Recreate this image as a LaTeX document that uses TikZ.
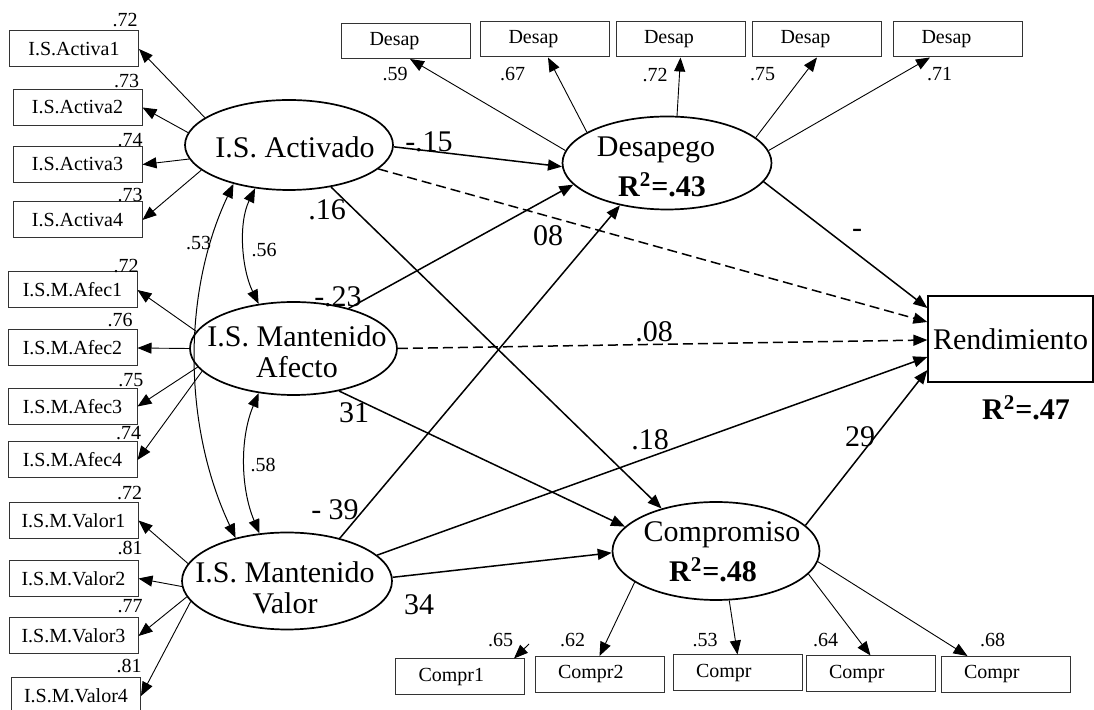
\documentclass[tikz,border=0pt]{standalone}
\usepackage{fontspec}
\setmainfont{Liberation Serif}
\usepackage{tikz}
\usetikzlibrary{shapes,arrows.meta,positioning,calc}

\newcommand{\txtbig}{\fontsize{15}{15.5}\selectfont}
\newcommand{\txtsmall}{\fontsize{10}{12}\selectfont}

\tikzset{
    lat/.style={ellipse, draw, line width=0.85pt, inner sep=0pt},
    ind/.style={rectangle, draw=black!80, line width=0.5pt, minimum width=64.5pt, minimum height=18pt, inner sep=0pt, font=\txtsmall},
    indl/.style={ind, align=left, text width=#1},
    bigtext/.style={font=\txtbig, inner sep=0pt, align=center},
    coef/.style={font=\txtbig, inner sep=0pt},
    load/.style={font=\txtsmall, inner sep=0pt},
    effect/.style={-{Triangle[length=7pt,width=5.5pt]}, line width=0.75pt},
    loadarrow/.style={-{Triangle[length=7pt,width=5.5pt]}, line width=0.45pt},
    corr/.style={{Triangle[length=7pt,width=5.5pt]}-{Triangle[length=7pt,width=5.5pt]}, line width=0.5pt},
    nonsig/.style={dash pattern=on 5pt off 2.5pt}
}

\begin{document}
\begin{tikzpicture}[x=0.5pt,y=-0.5pt]
    \useasboundingbox (0,0) rectangle (1094,710);

    % Latent variables
    \node[lat, minimum width=104pt, minimum height=45pt] (act) at (289,145) {};
    \node[bigtext] (actl) at (295,147) {I.S. Activado};
    \node[lat, minimum width=103.5pt, minimum height=46.5pt] (afe) at (293.5,348.5) {};
    \node[bigtext] (afel) at (297,352) {I.S. Mantenido\\Afecto};
    \node[lat, minimum width=105pt, minimum height=48.5pt] (val) at (287,581) {};
    \node[bigtext] (vall) at (285,588) {I.S. Mantenido\\Valor};
    \node[lat, minimum width=104.5pt, minimum height=46.5pt] (des) at (667,163) {};
    \node[bigtext] (desl) at (656,150) {Desapego};
    \node[bigtext] (desr) at (662,185) {\textbf{R\textsuperscript{2}=.43}};
    \node[lat, minimum width=103.5pt, minimum height=49pt] (com) at (716,551) {};
    \node[bigtext] (coml) at (722,535) {Compromiso};
    \node[bigtext] (comr) at (713,570) {\textbf{R\textsuperscript{2}=.48}};

    % Outcome
    \node[rectangle, draw, line width=0.6pt, minimum width=82.5pt, minimum height=43pt, inner sep=0pt, font=\txtbig] (ren) at (1010.5,339) {Rendimiento};
    \node[bigtext] (renr) at (1026,408) {\textbf{R\textsuperscript{2}=.47}};

    % Indicators I.S. Activado
    \node[ind] (a1) at (74,49) {I.S.Activa1};
    \node[ind] (a2) at (77.5,107.5) {I.S.Activa2};
    \node[ind] (a3) at (77.5,164.5) {I.S.Activa3};
    \node[ind] (a4) at (77.5,220) {I.S.Activa4};
    \node[load] (la1) at (125,20) {.72};
    \node[load] (la2) at (126.5,81) {.73};
    \node[load] (la3) at (130,140) {.74};
    \node[load] (la4) at (130,195) {.73};
    \draw[loadarrow] (act.162) -- (a1.east);
    \draw[loadarrow] (act.173) -- (a2.east);
    \draw[loadarrow] (act.188) -- (a3.east);
    \draw[loadarrow] (act.196) -- (a4.east);

    % Indicators I.S. Mantenido Afecto
    \node[ind] (f1) at (72.5,290) {I.S.M.Afec1};
    \node[ind] (f2) at (72.5,348) {I.S.M.Afec2};
    \node[ind] (f3) at (72.5,406.5) {I.S.M.Afec3};
    \node[ind] (f4) at (72.5,460) {I.S.M.Afec4};
    \node[load] (lf1) at (126,266) {.72};
    \node[load] (lf2) at (120,320) {.76};
    \node[load] (lf3) at (131,380) {.75};
    \node[load] (lf4) at (128.5,433) {.74};
    \draw[loadarrow] (afe.170) -- (f1.east);
    \draw[loadarrow] (afe.180) -- (f2.east);
    \draw[loadarrow] (afe.191) -- (f3.east);
    \draw[loadarrow] (afe.194) -- (f4.east);

    % Indicators I.S. Mantenido Valor
    \node[ind] (v1) at (73.5,520.5) {I.S.M.Valor1};
    \node[ind] (v2) at (73.5,578.5) {I.S.M.Valor2};
    \node[ind] (v3) at (73.5,636) {I.S.M.Valor3};
    \node[ind] (v4) at (76,696) {I.S.M.Valor4};
    \node[load] (lv1) at (129.5,493) {.72};
    \node[load] (lv2) at (130,548) {.81};
    \node[load] (lv3) at (130,606) {.77};
    \node[load] (lv4) at (129,666) {.81};
    \draw[loadarrow] (val.170) -- (v1.east);
    \draw[loadarrow] (val.183) -- (v2.east);
    \draw[loadarrow] (val.189) -- (v3.east);
    \draw[loadarrow] (val.192) -- (v4.east);

    % Indicators Desapego
    \node[indl=36.5pt, minimum height=17.5pt] (d1) at (406,41) {Desap};
    \node[indl=36.5pt, minimum height=17.5pt] (d2) at (545,39.5) {Desap};
    \node[indl=36.5pt, minimum height=17.5pt] (d3) at (680.5,39.5) {Desap};
    \node[indl=36.5pt, minimum height=17.5pt] (d4) at (817,39.5) {Desap};
    \node[indl=36.5pt, minimum height=17.5pt] (d5) at (958,39.5) {Desap};
    \node[load] (ld1) at (395,74.5) {.59};
    \node[load] (ld2) at (512.5,74.5) {.67};
    \node[load] (ld3) at (655,75) {.72};
    \node[load] (ld4) at (762.5,74.5) {.75};
    \node[load] (ld5) at (939.5,74.5) {.71};
    \draw[loadarrow] (des.173) -- ([xshift=2pt]d1.south);
    \draw[loadarrow] (des.159) -- ([xshift=1.5pt]d2.south);
    \draw[loadarrow] (des.78) -- (d3.south);
    \draw[loadarrow] (des.16) -- (d4.south);
    \draw[loadarrow] (des.7) -- ([xshift=-14pt]d5.south);

    % Indicators Compromiso
    \node[indl=41.5pt] (c1) at (460,677) {Compr1};
    \node[indl=41.5pt] (c2) at (599.5,674.5) {Compr2};
    \node[indl=41.5pt] (c3) at (737.5,673) {Compr};
    \node[indl=41.5pt] (c4) at (870.5,674) {Compr};
    \node[indl=41.5pt] (c5) at (1005.5,674.5) {Compr};
    \node[load] (lc1) at (500.5,640) {.65};
    \node[load] (lc2) at (572.5,640) {.62};
    \node[load] (lc3) at (705,640) {.53};
    \node[load] (lc4) at (825.5,640) {.64};
    \node[load] (lc5) at (992.5,640) {.68};
    \coordinate (k1) at (529,644);
    \draw[loadarrow] (k1) -- ([xshift=-5.5pt]c1.north east);
    \draw[loadarrow] (com.201) -- (c2.north);
    \draw[loadarrow] (com.-75) -- (c3.north);
    \draw[loadarrow] (com.-14) -- (c4.north);
    \draw[loadarrow] (com.-6) -- ([xshift=-19pt]c5.north);

    % Correlations
    \draw[corr] (act.232) .. controls +(-17,35) and +(-17,-35) .. (afe.128);
    \draw[corr] (act.215) .. controls +(-52,110) and +(-52,-110) .. (val.140);
    \draw[corr] (afe.232) .. controls +(-19,45) and +(-19,-45) .. (val.120);
    \node[load] (r1) at (264,250) {.56};
    \node[load] (r2) at (198.5,243) {.53};
    \node[load] (r3) at (263,465) {.58};

    % Structural paths
    \draw[effect] (act.-1) -- (des.182);
    \draw[effect, nonsig] (act.-15) -- ($(ren.west)+(0,-17)$);
    \draw[effect] (act.-45) -- (com.142);
    \draw[effect] (afe.36) -- (des.193);
    \draw[effect, nonsig] (afe.east) -- ($(ren.west)+(0,1)$);
    \draw[effect] (afe.-43) -- (com.165);
    \draw[effect] (val.39) -- (des.222);
    \draw[effect] (val.16) -- ($(ren.west)+(0,18)$);
    \draw[effect] (val.2) -- (com.181);
    \draw[effect] (des.-11) -- ($(ren.west)+(0,-31)$);
    \draw[effect] (com.16) -- ($(ren.west)+(0,31)$);

    % Path coefficients
    \node[coef] (p1) at (429,142) {-.15};
    \node[coef] (p2) at (327,210) {.16};
    \node[coef] (p3) at (548,236) {08};
    \node[coef] (p4) at (338,297) {-.23};
    \node[coef] (p5) at (654,332) {.08};
    \node[coef] (p6) at (354,413) {31};
    \node[coef] (p7) at (335,510) {- 39};
    \node[coef] (p8) at (650,440) {.18};
    \node[coef] (p9) at (419,605) {34};
    \node[coef] (p10) at (857,233) {-};
    \node[coef] (p11) at (860,437) {29};
\end{tikzpicture}
\end{document}
